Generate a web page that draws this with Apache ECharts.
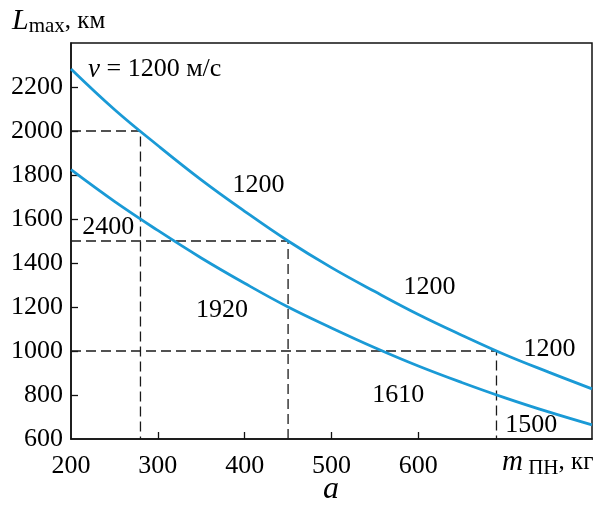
<!DOCTYPE html>
<html>
<head>
<meta charset="utf-8">
<script src="https://cdn.jsdelivr.net/npm/echarts@6/dist/echarts.min.js"></script>
<style>html,body{margin:0;padding:0;background:#fff}#c{width:603px;height:514px}</style>
</head>
<body>
<div id="c"></div>
<script>
// Data
var xValues = [200, 250, 300, 350, 400, 450, 500, 550, 600, 650, 700, 750, 800];
var upperCurve = [2282, 2098, 1934, 1778, 1635, 1500, 1379, 1270, 1166, 1072, 983, 904, 828];
var lowerCurve = [1824, 1680, 1548, 1423, 1308, 1200, 1105, 1015, 932, 857, 787, 723, 664];
var guideX = [280, 450, 690];
var guideY = [2000, 1500, 1000];
var xTickValues = [300, 400, 500, 600];
var xLabelValues = [200, 300, 400, 500, 600];
var yTickValues = [800, 1000, 1200, 1400, 1600, 1800, 2000, 2200];
var yLabelValues = [600, 800, 1000, 1200, 1400, 1600, 1800, 2000, 2200];
var annoText = ['1200', '1200', '1200', '2400', '1920', '1610', '1500'];
var annoX = [416, 613, 751, 243, 374, 577, 730];
var annoY = [1752, 1289, 1008, 1561, 1185, 800, 663];

var FONT = '"Liberation Serif", "DejaVu Serif", serif';
var BLUE = '#1a9ad6';
var INK = '#111111';

var series = [];
series.push({ type: 'line', data: xValues.map(function (x, i) { return [x, upperCurve[i]]; }),
  smooth: 0.4, symbol: 'none', lineStyle: { color: BLUE, width: 2.8 }, z: 5 });
series.push({ type: 'line', data: xValues.map(function (x, i) { return [x, lowerCurve[i]]; }),
  smooth: 0.4, symbol: 'none', lineStyle: { color: BLUE, width: 2.8 }, z: 5 });
guideX.forEach(function (gx, i) {
  series.push({ type: 'line', data: [[200, guideY[i]], [gx, guideY[i]], [gx, 600]],
    symbol: 'none', lineStyle: { color: '#1a1a1a', width: 1.3, type: [10, 5] }, z: 3 });
});
series.push({ type: 'scatter', symbolSize: 1, silent: true,
  data: annoText.map(function (t, i) { return { value: [annoX[i], annoY[i]], name: t }; }),
  itemStyle: { color: 'rgba(0,0,0,0)' },
  label: { show: true, position: 'inside', formatter: '{b}', fontFamily: FONT, fontSize: 26,
           color: '#000', textBorderWidth: 0, textBorderColor: 'transparent', opacity: 1 }, z: 6 });

var plain = function (v) { return String(v); };

var chart = echarts.init(document.getElementById('c'));
chart.setOption({
  animation: false,
  backgroundColor: '#fff',
  grid: { left: 71, right: 11, top: 43, bottom: 75, show: true, borderColor: INK, borderWidth: 1.5 },
  xAxis: {
    type: 'value', min: 200, max: 800,
    axisLine: { show: true, lineStyle: { color: INK, width: 1.5 } },
    axisTick: { show: true, inside: true, length: 7, lineStyle: { color: INK, width: 1.3 }, customValues: xTickValues },
    axisLabel: { fontFamily: FONT, fontSize: 26, color: '#000', margin: 14, customValues: xLabelValues, formatter: plain },
    splitLine: { show: false }
  },
  yAxis: {
    type: 'value', min: 600, max: 2400,
    axisLine: { show: true, lineStyle: { color: INK, width: 1.5 } },
    axisTick: { show: true, inside: true, length: 7, lineStyle: { color: INK, width: 1.3 }, customValues: yTickValues },
    axisLabel: { fontFamily: FONT, fontSize: 26, color: '#000', margin: 8, customValues: yLabelValues, formatter: plain },
    splitLine: { show: false }
  },
  graphic: [
    { type: 'text', left: 12, top: 6, style: { text: '{i|L}{s|max}{n|, км}',
      rich: { i: { fontFamily: FONT, fontStyle: 'italic', fontSize: 30, fill: '#000' },
              s: { fontFamily: FONT, fontSize: 21, fill: '#000', padding: [11, 0, 0, 0] },
              n: { fontFamily: FONT, fontSize: 25, fill: '#000' } } } },
    { type: 'text', left: 88, top: 56, style: { text: '{i|v}{n| = 1200 м/с}',
      rich: { i: { fontFamily: FONT, fontStyle: 'italic', fontSize: 27, fill: '#000' },
              n: { fontFamily: FONT, fontSize: 26, fill: '#000' } } } },
    { type: 'text', left: 502, top: 448, style: { text: '{i|m}{s| ПН}{n|, кг}',
      rich: { i: { fontFamily: FONT, fontStyle: 'italic', fontSize: 29, fill: '#000' },
              s: { fontFamily: FONT, fontSize: 21, fill: '#000', padding: [11, 0, 0, 0] },
              n: { fontFamily: FONT, fontSize: 25, fill: '#000' } } } },
    { type: 'text', left: 323, top: 474, style: { text: 'a', fontFamily: FONT, fontStyle: 'italic', fontSize: 32, fill: '#000' } }
  ],
  series: series
});
</script>
</body>
</html>
